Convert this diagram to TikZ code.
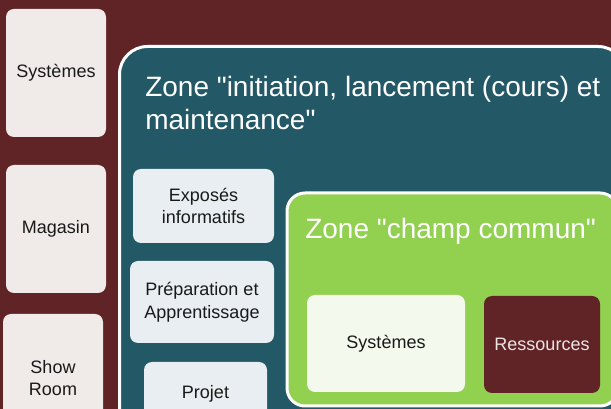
\documentclass[tikz,border=0pt]{standalone}
\usepackage{fontspec}
\setmainfont{Liberation Sans}
\usepackage{tikz}

\definecolor{maroon}{RGB}{97,36,38}
\definecolor{teal}{RGB}{35,88,102}
\definecolor{leaf}{RGB}{146,208,80}
\definecolor{sand}{RGB}{240,235,233}
\definecolor{mist}{RGB}{232,238,241}
\definecolor{pale}{RGB}{244,249,238}

\begin{document}
\begin{tikzpicture}[x=0.75pt,y=0.75pt,yscale=-1,xscale=1,
        box/.style={rounded corners=6pt,inner sep=0pt,align=center,font=\fontsize{13.5}{17}\selectfont,text=black!90},
        leftbox/.style={box,fill=sand,minimum width=75pt,minimum height=96pt},
        tealbox/.style={box,fill=mist},
        zonetitle/.style={inner sep=0pt,align=left,text=white,font=\fontsize{21}{24.75}\selectfont}]
        \clip (0,0) rectangle (611,409);
        \fill [maroon] (0,0) rectangle (611,409);

        % left column
        \node [leftbox] (systemes) at (56,73) {Systèmes};
        \node [leftbox] (magasin) at (56,229) {Magasin};
        \node [leftbox] (showroom) at (53,378) {Show\\Room};

        % zone initiation
        \draw [fill=teal,draw=white,line width=2.25pt,rounded corners=21pt] (119.5,46.5) rectangle (626,470);
        \node [zonetitle,anchor=base west] (titreinit) at (145,130) {Zone \textquotedbl initiation, lancement (cours) et\\maintenance\textquotedbl};

        \node [tealbox,minimum width=105.75pt,minimum height=55.5pt] (exposes) at (203.5,206) {Exposés\\informatifs};
        \node [tealbox,minimum width=108pt,minimum height=61.5pt] (preparation) at (202,302) {Préparation et\\Apprentissage};
        \node [tealbox,minimum width=92.25pt,minimum height=48pt] (projet) at (205.5,394) {Projet};

        % zone champ commun
        \draw [fill=leaf,draw=white,line width=2.25pt,rounded corners=13.5pt] (287,193) rectangle (618,406);
        \node [zonetitle,anchor=base west] (titrecommun) at (305,239) {Zone \textquotedbl champ commun\textquotedbl};

        \node [box,fill=pale,minimum width=118.5pt,minimum height=72.75pt] (systemescommun) at (386,343.5) {Systèmes};
        \node [box,fill=maroon,text=white!88!maroon,minimum width=87pt,minimum height=72.75pt] (ressources) at (542,344.5) {Ressources};
    \end{tikzpicture}
\end{document}
